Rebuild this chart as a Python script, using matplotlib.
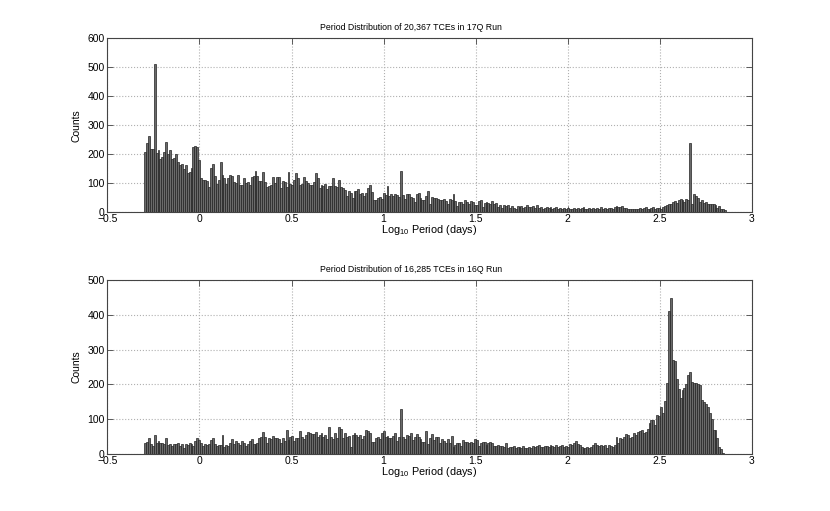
import matplotlib
matplotlib.use("Agg")
import matplotlib.pyplot as plt
import numpy as np

plt.rcParams['font.family'] = ['Liberation Sans', 'DejaVu Sans']
plt.rcParams['mathtext.default'] = 'regular'

# 300 bins in log10(period)
edges = np.linspace(-0.302, 2.862, 301)

counts_17q = [
    208, 237, 263, 217, 217, 511, 205, 214, 185, 191, 208, 242, 202, 214, 185, 187, 200, 174, 162, 168,
    149, 162, 134, 139, 154, 225, 227, 225, 179, 119,
    113, 111, 107, 86, 151, 166, 125, 99, 111, 174, 128, 117, 99, 117, 130, 125, 105, 102, 130, 94,
    94, 117, 102, 105, 94, 120, 125, 143, 125, 109,
    109, 139, 105, 88, 91, 94, 122, 102, 122, 122, 85, 107, 105, 86, 139, 99, 94, 111, 136, 117,
    94, 96, 120, 108, 100, 95, 93, 106, 136, 118,
    84, 93, 89, 98, 81, 92, 89, 118, 89, 87, 112, 87, 84, 78, 55, 75, 66, 49, 72, 72,
    81, 62, 68, 55, 66, 84, 93, 70, 43, 43, 50, 53, 47, 66, 58, 89, 55, 62, 56, 64,
    60, 52,
    141,
    58, 45, 62, 62, 53, 48, 35, 64, 66, 50, 41, 41, 55, 75, 30, 53, 49, 50, 47, 41,
    41, 45, 38, 30, 47, 43, 64, 40, 21, 35, 35, 30, 41, 35, 28, 39, 35, 24, 24, 39,
    41, 18, 32, 35, 33, 28, 39, 30, 32, 18, 24, 16, 24, 21, 26, 16, 21, 16, 13, 21,
    18, 22, 15, 19, 24, 17, 20,
    21, 16, 24, 16, 18, 13, 16, 20, 14, 17, 12, 15, 18, 13, 16, 11, 14, 12, 15, 10,
    13, 15, 11, 16, 12, 14, 18, 10, 13, 15, 12, 16, 11, 14, 13, 17, 12, 15, 11, 14,
    16, 13, 18, 21, 20, 17, 22, 15, 14, 13, 11, 12, 10, 13, 11, 15, 13, 16, 18, 13,
    13, 16, 18, 13, 15, 16, 13, 18, 21, 24, 30, 28, 35, 38, 33, 41, 47, 42, 35, 45,
    44,
    239,
    30, 62, 57, 50, 35, 41, 32, 35, 30, 30, 28, 30, 24, 16, 21, 13, 10, 8,
]

counts_16q = [
    31, 34, 45, 28, 24, 55, 31, 37, 32, 31, 29, 45, 26, 28, 23, 30, 28, 31, 24, 28,
    16, 29, 25, 32, 29, 23, 37, 45, 40, 32,
    22, 28, 26, 28, 40, 45, 30, 23, 26, 26, 56, 21, 26, 23, 32, 42, 28, 36, 31, 26,
    37, 31, 23, 30, 37, 42, 28, 28, 32, 45,
    50, 64, 48, 31, 47, 42, 51, 45, 45, 42, 32, 45, 38, 69, 40, 48, 51, 37, 45, 45,
    66, 50, 42, 55, 64, 61, 57, 57, 64, 48,
    55, 61, 48, 55, 42, 78, 50, 42, 59, 45,
    78, 73, 45, 61, 50, 51, 21, 55, 61, 55, 48, 55, 42, 51, 70, 67, 60, 35, 35, 45,
    48, 42, 61, 66, 50, 51, 45, 45, 52, 59, 38, 50,
    128,
    48, 42, 55, 51, 61, 40, 50, 57, 48, 42, 35, 35, 66, 29, 45, 57, 40, 48, 48, 32,
    42, 38, 32, 42, 31, 51, 19, 26, 31, 31, 23, 40, 34, 34, 31, 35, 31, 42, 40, 23,
    31, 35, 35, 26, 31, 35, 31, 23, 23, 26, 23, 23, 19, 32, 16, 21, 21, 23, 16, 21,
    19, 16, 23, 16, 16, 21, 18, 24, 20, 22, 26, 21, 19, 24, 22, 21, 26, 24, 21, 26,
    21, 24, 26, 21, 23, 21,
    29, 26, 31, 36, 29, 26, 21, 18,
    16, 21, 16, 21, 26, 33, 26, 24,
    26, 24, 26, 16, 26, 24, 20, 26, 48,
    31, 45, 42, 50, 57, 55, 45, 48, 61, 55, 64,
    66,
    69, 59, 64, 71, 88, 98, 98, 84, 112, 109, 136, 117, 152, 203, 412, 447, 270, 268, 217, 188,
    160, 184, 191, 201, 228, 236, 208, 205, 203, 201, 199, 155, 150, 145, 136, 117, 102, 69, 69, 45,
    21, 13,
    4, 0,
]

titles = ["Period Distribution of 20,367 TCEs in 17Q Run",
          "Period Distribution of 16,285 TCEs in 16Q Run"]
ylims = [600, 500]

fig = plt.figure(figsize=(8.3, 5.11), dpi=100)
ax1 = fig.add_axes([0.1295, 0.5845, 0.776, 0.341])
ax2 = fig.add_axes([0.1295, 0.1115, 0.776, 0.3405])

w = np.diff(edges)
for ax, counts, title, ymax in zip([ax1, ax2], [counts_17q, counts_16q], titles, ylims):
    ax.bar(edges[:-1], counts, width=w, align='edge',
           facecolor='#6a6a6a', edgecolor='#222222', linewidth=0.5)
    ax.set_xlim(-0.5, 3)
    ax.set_ylim(0, ymax)
    ax.set_xticks(np.arange(-0.5, 3.01, 0.5))
    ax.set_xticklabels(['\u22120.5', '0', '0.5', '1', '1.5', '2', '2.5', '3'])
    ax.set_yticks(np.arange(0, ymax + 1, 100))
    ax.grid(True, linestyle=':', color='#b0b0b0', linewidth=0.8)
    ax.set_axisbelow(True)
    ax.tick_params(direction='in', top=True, right=True, labelsize=7.5,
                   length=4, width=0.6, color='#444444', pad=2)
    ax.tick_params(axis='x', pad=1.5)
    for s in ax.spines.values():
        s.set_color('#444444')
        s.set_linewidth(0.8)
    ax.text(0.471, 1.035, title, transform=ax.transAxes, fontsize=6.3,
            ha='center', va='bottom')
    ax.set_xlabel("Log$_{10}$ Period (days)", fontsize=7.8, labelpad=-1)
    ax.set_ylabel("Counts", fontsize=7.5, labelpad=4)

fig.savefig("out.png", dpi=100)
